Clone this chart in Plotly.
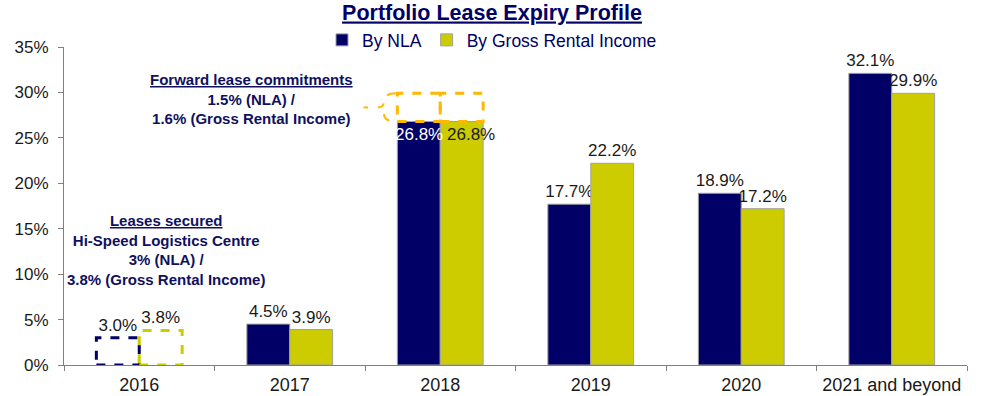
import plotly.graph_objects as go

categories = ["2016", "2017", "2018", "2019", "2020", "2021 and beyond"]
nla = [3.0, 4.5, 26.8, 17.7, 18.9, 32.1]
gri = [3.8, 3.9, 26.8, 22.2, 17.2, 29.9]
forward_top = 29.9  # top of drawn forward-commitment boxes for 2018
y_ticks = [0, 5, 10, 15, 20, 25, 30, 35]
y_tick_labels = [f"{v}%" for v in y_ticks]

NAVY = "#000066"
YELLOW = "#CCCC00"
ORANGE = "#FFB800"
TXT = "#1a1a1a"
ANN = "#101060"
FONT = "Arial, Liberation Sans, sans-serif"

BARGAP = 0.43
W = (1 - BARGAP) / 2
LBL = 17

dashed_idx = [0]      # 2016: outlined only
inside_idx = [2]      # 2018: labels inside
solid_idx = [i for i in range(len(categories)) if i not in dashed_idx]

def texts(vals, idx):
    return ["" if i in inside_idx else f"{vals[i]:.1f}%" for i in idx]

fig = go.Figure()
for name, vals, col, grp in [("By NLA", nla, NAVY, "a"), ("By Gross Rental Income", gri, YELLOW, "b")]:
    fig.add_trace(go.Bar(
        name=name, x=[categories[i] for i in solid_idx], y=[vals[i] for i in solid_idx],
        offsetgroup=grp, marker=dict(color=col, line=dict(color="#a0a0a0", width=1)),
        text=texts(vals, solid_idx), textposition="outside", constraintext="none",
        textfont=dict(size=LBL, color=TXT, family=FONT), cliponaxis=False,
    ))
    fig.add_trace(go.Bar(
        name=name, x=[categories[i] for i in dashed_idx], y=[vals[i] for i in dashed_idx],
        offsetgroup=grp, showlegend=False,
        marker=dict(color="rgba(0,0,0,0)", line=dict(color="rgba(0,0,0,0)", width=0)),
        text=texts(vals, dashed_idx), textposition="outside", constraintext="none",
        textfont=dict(size=LBL, color=TXT, family=FONT), cliponaxis=False,
    ))

# dashed outlines for 2016
for i in dashed_idx:
    fig.add_shape(type="rect", xref="x", yref="y", x0=i - W, x1=i, y0=0, y1=nla[i],
                  line=dict(color=NAVY, width=3, dash="dash"))
    fig.add_shape(type="rect", xref="x", yref="y", x0=i, x1=i + W, y0=0, y1=gri[i],
                  line=dict(color=YELLOW, width=3, dash="dash"))

# forward-commitment boxes for 2018
for i in inside_idx:
    fig.add_shape(type="rect", xref="x", yref="y", x0=i - W, x1=i, y0=nla[i], y1=forward_top,
                  line=dict(color=ORANGE, width=3, dash="dash"))
    fig.add_shape(type="rect", xref="x", yref="y", x0=i, x1=i + W, y0=gri[i], y1=forward_top,
                  line=dict(color=ORANGE, width=3, dash="dash"))
    xl = i - W
    top, bot = forward_top, nla[i]
    mid = (top + bot) / 2
    path = (f"M {xl-0.01},{top} Q {xl-0.09},{top} {xl-0.09},{mid+0.6} "
            f"Q {xl-0.09},{mid} {xl-0.13},{mid} Q {xl-0.09},{mid} {xl-0.09},{mid-0.6} "
            f"Q {xl-0.09},{bot} {xl-0.01},{bot}")
    fig.add_shape(type="path", xref="x", yref="y", path=path,
                  line=dict(color=ORANGE, width=2, dash="dash"))
    fig.add_shape(type="line", xref="x", yref="y", x0=xl - 0.225, x1=xl - 0.195, y0=mid, y1=mid,
                  line=dict(color=ORANGE, width=2))
    fig.add_annotation(x=i - W / 2, y=nla[i], xref="x", yref="y", text=f"{nla[i]:.1f}%",
                       showarrow=False, yanchor="top", yshift=-1, xshift=0,
                       font=dict(size=LBL, color="white", family=FONT))
    fig.add_annotation(x=i + W / 2, y=gri[i], xref="x", yref="y", text=f"{gri[i]:.1f}%",
                       showarrow=False, yanchor="top", yshift=-1, xshift=9,
                       font=dict(size=LBL, color=TXT, family=FONT))

fig.add_annotation(
    x=(251 - 64) / 903, y=1 - (99 - 47) / 318, xref="paper", yref="paper", showarrow=False,
    text="<b><u>Forward lease commitments</u></b><br><b>1.5% (NLA) /</b><br><b>1.6% (Gross Rental Income)</b>",
    font=dict(size=15, color=ANN, family=FONT), align="center", xanchor="center", yanchor="middle",
)
fig.add_annotation(
    x=(166 - 64) / 903, y=1 - (250 - 47) / 318, xref="paper", yref="paper", showarrow=False,
    text="<b><u>Leases secured</u></b><br><b>Hi-Speed Logistics Centre</b><br><b>3% (NLA) /</b><br><b>3.8% (Gross Rental Income)</b>",
    font=dict(size=15, color=ANN, family=FONT), align="center", xanchor="center", yanchor="middle",
)

fig.update_layout(
    width=984, height=396,
    margin=dict(l=64, r=17, t=47, b=31, autoexpand=False),
    paper_bgcolor="white", plot_bgcolor="white",
    barmode="group", bargap=BARGAP, bargroupgap=0,
    font=dict(family=FONT, size=16, color=TXT),
    title=dict(text="<b><u>Portfolio Lease Expiry Profile</u></b>", x=0.5, xref="container",
               y=1 - 12 / 396, yref="container", xanchor="center", yanchor="middle",
               font=dict(size=21.5, color=NAVY, family=FONT)),
    legend=dict(orientation="h", x=0.5, xref="container", xanchor="center",
                y=1 - 22 / 396, yref="container", yanchor="top",
                font=dict(size=17.5, color=NAVY, family=FONT), itemwidth=30,
                traceorder="normal", tracegroupgap=0, bgcolor="rgba(0,0,0,0)"),
    showlegend=True,
)
fig.update_yaxes(range=[0, 35], tickvals=y_ticks, ticktext=y_tick_labels, showgrid=False,
                 showline=True, linecolor="#808080", linewidth=1, ticks="outside", ticklen=5,
                 tickcolor="#808080", zeroline=False, tickfont=dict(size=17, color=TXT),
                 ticklabelstandoff=6)
fig.update_xaxes(categoryorder="array", categoryarray=categories,
                 showgrid=False, showline=True, linecolor="#808080", linewidth=1,
                 ticks="outside", ticklen=5, tickcolor="#808080", tickson="boundaries",
                 tickfont=dict(size=18, color=TXT), ticklabelstandoff=3)

fig.write_html("out.html", config={"displayModeBar": False},
               post_script="document.body.style.margin='0';")
